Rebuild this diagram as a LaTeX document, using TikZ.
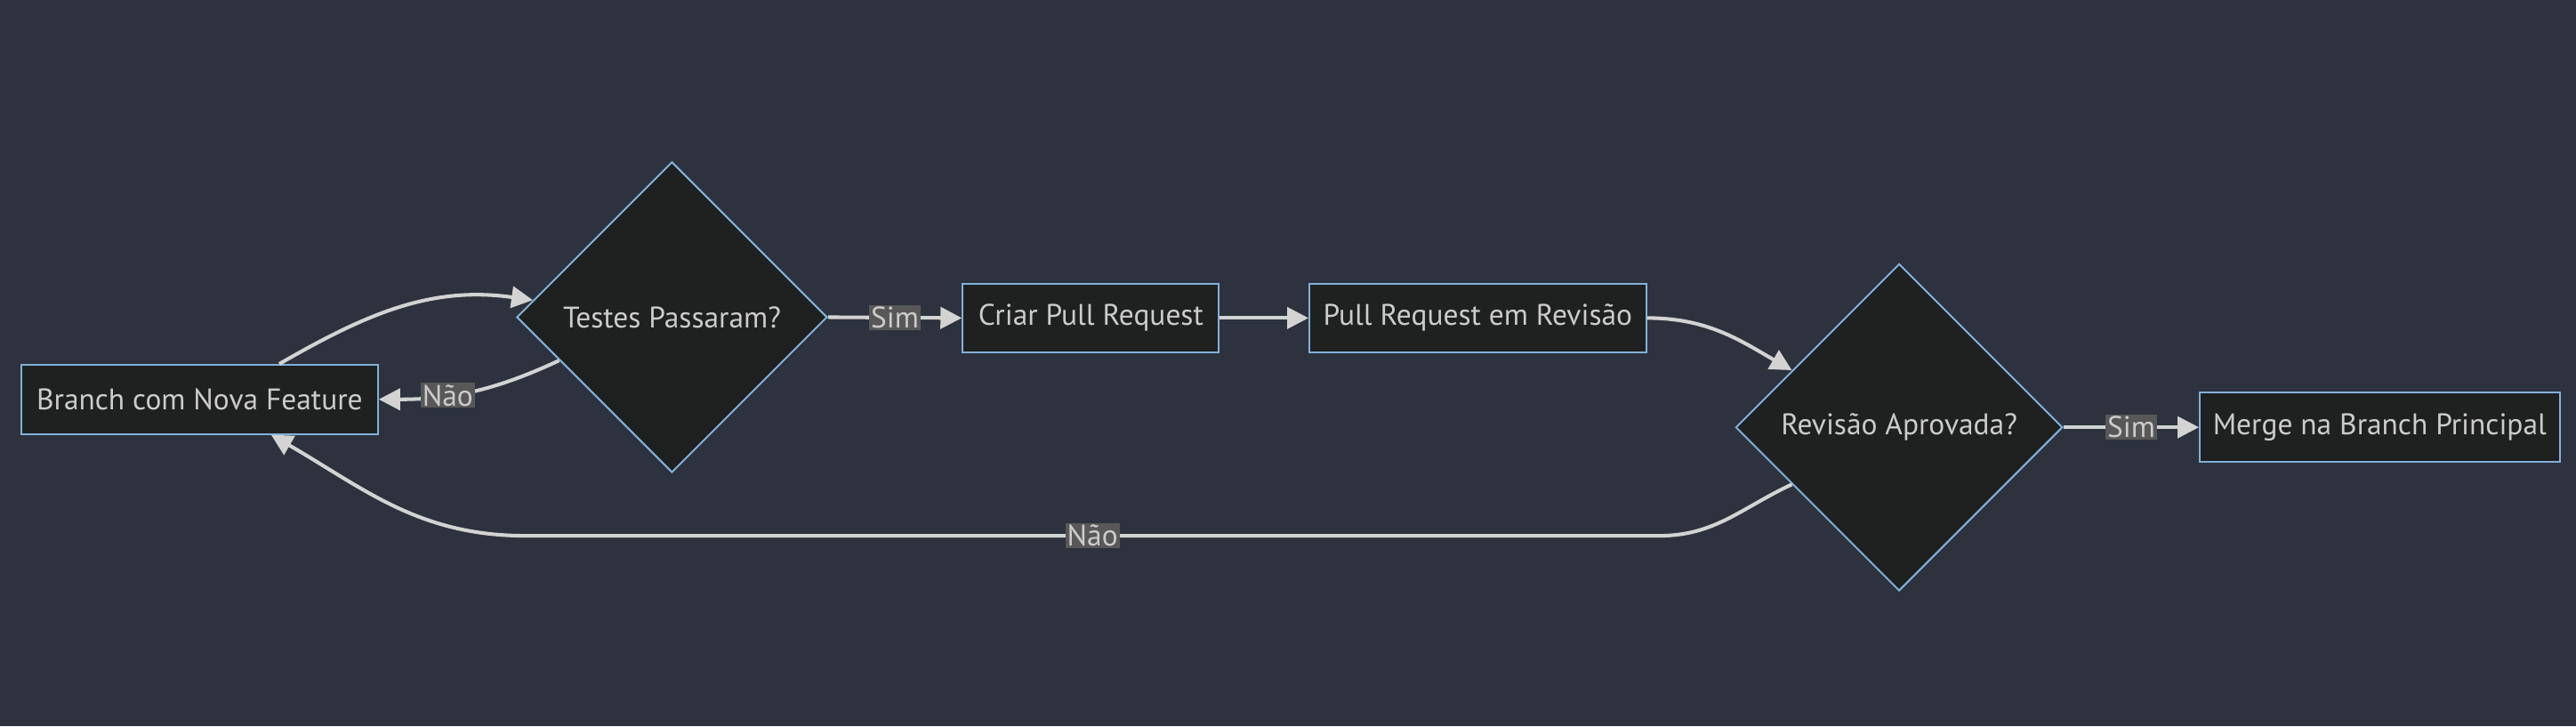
\documentclass[tikz,border=0pt]{standalone}
\usepackage{fontspec}
\setmainfont{PT Sans}
\usetikzlibrary{shapes.geometric,arrows.meta}
\definecolor{bgcol}{HTML}{2D323E}
\definecolor{nodefill}{HTML}{1F2020}
\definecolor{nodeline}{HTML}{81B1DB}
\definecolor{txtcol}{HTML}{CCCCCC}
\definecolor{linecol}{HTML}{D3D3D3}
\definecolor{lblfill}{HTML}{585858}

\begin{document}
\begin{tikzpicture}[x=1pt,y=1pt,
        >={Triangle[length=13pt,width=13pt]},
        box/.style={draw=nodeline,fill=nodefill,line width=1.1pt,text=txtcol,minimum height=42pt,inner sep=0pt,font=\fontsize{18.1}{21}\selectfont},
        decision/.style={diamond,aspect=1,draw=nodeline,fill=nodefill,line width=1.1pt,text=txtcol,inner sep=0pt,font=\fontsize{18.1}{21}\selectfont},
        flow/.style={->,draw=linecol,line width=2.2pt},
        lbl/.style={fill=lblfill,text=txtcol,inner sep=1pt,font=\fontsize{18.1}{21}\selectfont}]
            \fill[bgcol] (0,0) rectangle (1568,442);
            \useasboundingbox (0,0) rectangle (1568,442);
            \node[box,minimum width=217pt] (br) at (121.5,199) {Branch com Nova Feature};
            \node[decision,minimum width=189pt,minimum height=189pt] (tp) at (409,249) {Testes Passaram?};
            \node[box,minimum width=156pt] (cr) at (664,248.5) {Criar Pull Request};
            \node[box,minimum width=205pt] (pr) at (899.5,248.5) {Pull Request em Revisão};
            \node[decision,minimum width=199pt,minimum height=199pt] (rv) at (1156,182) {Revisão Aprovada?};
            \node[box,minimum width=219pt] (mg) at (1448.5,182) {Merge na Branch Principal};
            \coordinate (nr) at (1010,116);
            \coordinate (nl) at (320,116);
            \draw[flow] ([xshift=48.5pt]br.north) to[out=30,in=172] (tp.173);
            \draw[flow] (tp.201) to[out=205,in=0] node[lbl,pos=0.64] {Não} (br.east);
            \draw[flow] (tp.east) -- node[lbl] {Sim} (cr.west);
            \draw[flow] (cr.east) -- (pr.west);
            \draw[flow] (pr.east) to[out=0,in=150] (rv.152);
            \draw[flow] (rv.east) -- node[lbl] {Sim} (mg.west);
            \draw[flow] (rv.208) to[out=205,in=0] (nr) -- node[lbl] {Não} (nl) to[out=180,in=-30] ([xshift=43.5pt]br.south);
        \end{tikzpicture}
\end{document}
